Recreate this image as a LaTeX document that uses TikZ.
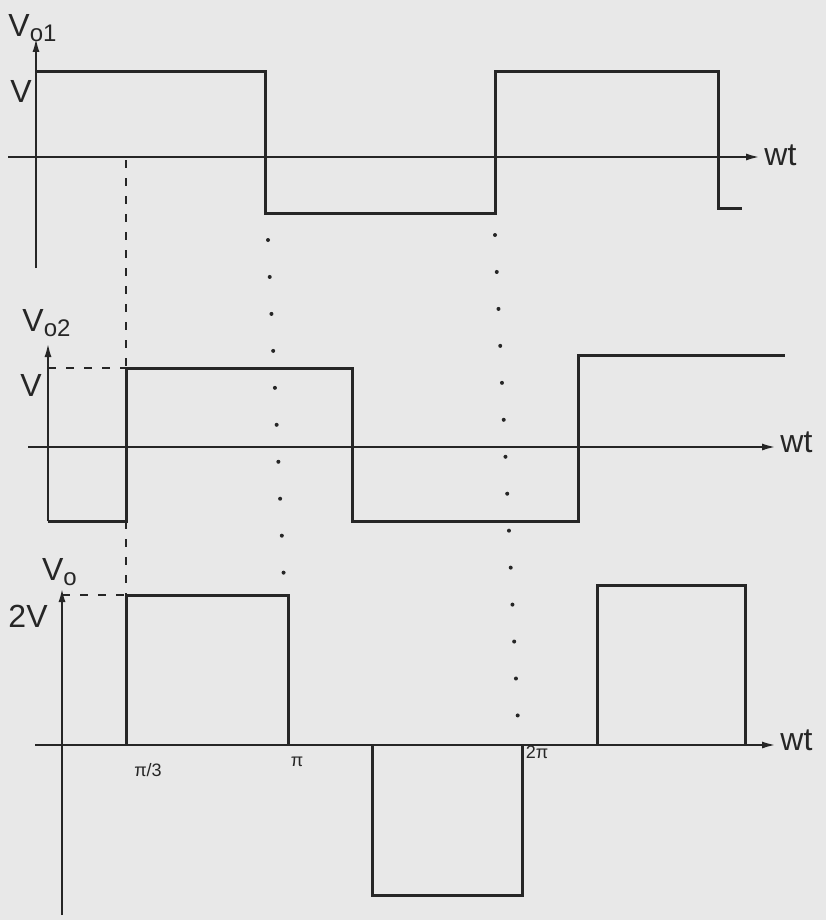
\documentclass[tikz,border=0pt]{standalone}
\usepackage{fontspec}
\setmainfont{Liberation Sans}
\usetikzlibrary{arrows.meta}

\definecolor{paper}{RGB}{232,232,232}
\definecolor{ink}{RGB}{38,38,38}

\begin{document}
\begin{tikzpicture}[x=0.5pt,y=-0.5pt,
    wave/.style={ink, line width=1.5pt},
    axis/.style={ink, line width=1.1pt},
    tip/.style={-{Latex[length=7pt,width=3.5pt]}},
    guide/.style={ink, line width=0.9pt, dash pattern=on 4pt off 5pt},
    dotline/.style={ink, line width=2pt, line cap=round, dash pattern=on 0pt off 18.5pt},
    lbl/.style={ink, font=\fontsize{16}{18}\selectfont, inner sep=0pt},
    tick/.style={ink, font=\fontsize{9}{10}\selectfont, inner sep=0pt}]

    \fill[paper] (0,0) rectangle (826,920);
    \useasboundingbox (0,0) rectangle (826,920);

    % Vo1
    \draw[axis,tip] (36,268) -- (36,38);
    \draw[axis,tip] (8,157) -- (760,157);
    \node[lbl] (vo1) at (33,28) {V\textsubscript{\fontsize{12}{12}\selectfont o1}};
    \node[lbl,anchor=east] (v1) at (32,91) {V};
    \node[lbl,anchor=west] (wt1) at (764,155) {wt};
    \draw[wave] (36,72) -- (265,72) -- (265,213) -- (495,213)
        -- (495,72) -- (718,72) -- (718,208) -- (742,208);

    % pi/3 guide
    \draw[guide] (126,160) -- (126,368);
    \draw[guide] (126,521) -- (126,595);

    % pi and 2pi dots
    \draw[dotline] (268,240) -- (284,582);
    \draw[dotline] (495,235) -- (518,722);

    % Vo2
    \draw[axis,tip] (48,521) -- (48,343);
    \draw[axis,tip] (28,447) -- (776,447);
    \node[lbl] (vo2) at (47,323) {V\textsubscript{\fontsize{12}{12}\selectfont o2}};
    \node[lbl,anchor=east] (v2) at (42,385) {V};
    \node[lbl,anchor=west] (wt2) at (780,442) {wt};
    \draw[guide] (48,368) -- (126,368);
    \draw[wave] (48,521) -- (126,521) -- (126,368) -- (352,368)
        -- (352,521) -- (578,521) -- (578,355) -- (785,355);

    % Vo
    \draw[axis,tip] (62,915) -- (62,588);
    \draw[axis,tip] (35,745) -- (776,745);
    \node[lbl] (vo) at (60,572) {V\textsubscript{\fontsize{12}{12}\selectfont o}};
    \node[lbl,anchor=east] (v3) at (48,616) {2V};
    \node[lbl,anchor=west] (wt3) at (780,740) {wt};
    \draw[guide] (62,595) -- (126,595);
    \draw[wave] (126,745) -- (126,595) -- (288,595) -- (288,745);
    \draw[wave] (372,745) -- (372,895) -- (522,895) -- (522,745);
    \draw[wave] (597,745) -- (597,585) -- (745,585) -- (745,745);
    \node[tick] (t1) at (148,770) {π/3};
    \node[tick] (t2) at (297,762) {π};
    \node[tick] (t3) at (537,752) {2π};
\end{tikzpicture}
\end{document}
